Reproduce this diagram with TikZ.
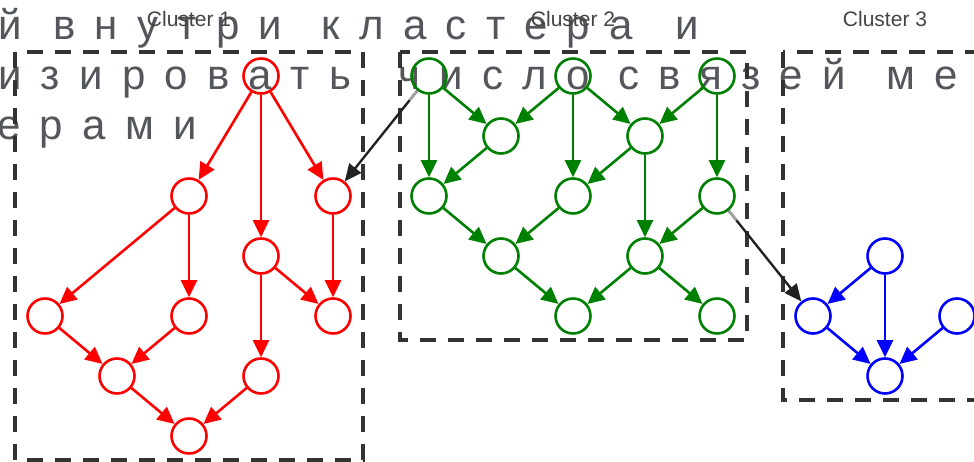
\documentclass[tikz,border=0pt]{standalone}
\usepackage{fontspec}
\setmainfont{Liberation Sans}
\newfontfamily\graytextfont[LetterSpace=46]{Liberation Sans}
\usetikzlibrary{arrows.meta,calc}
\definecolor{txtgray}{HTML}{53565B}
\definecolor{dashgray}{HTML}{333333}
\definecolor{lblgray}{HTML}{444444}
\definecolor{linkblack}{HTML}{222222}
\begin{document}
\begin{tikzpicture}[x=1pt,y=-1pt,
  gw/.style={anchor=base west, inner sep=0pt, font=\graytextfont\fontsize{42}{42}\selectfont, text=txtgray},
  vtx/.style={circle, line width=2.6pt, minimum size=35pt, inner sep=0pt},
  rv/.style={vtx, draw=red},
  gv/.style={vtx, draw=green!50!black},
  bv/.style={vtx, draw=blue},
  ed/.style={line width=2.6pt, -{Triangle[length=17pt,width=16pt]}},
  red edge/.style={ed, draw=red, fill=red},
  green edge/.style={ed, draw=green!50!black, fill=green!50!black},
  blue edge/.style={ed, draw=blue, fill=blue},
  link/.style={line width=2.4pt, draw=linkblack, -{Triangle[length=17pt,width=15pt]}},
  linkfade/.style={line width=2.4pt, draw=black!35},
  clusterbox/.style={draw=dashgray, line width=3.2pt, dash pattern=on 16pt off 12pt},
  lbl/.style={anchor=base, inner sep=0pt, font=\fontsize{21}{21}\selectfont, text=lblgray}
]
\useasboundingbox (0,0) rectangle (974,462);

% overlapping gray text
\node[gw] (t1a) at (-2,40) {й};
\node[gw] (t1b) at (53,40) {внутри};
\node[gw] (t1c) at (321,40) {кластера};
\node[gw] (t1d) at (675,40) {и};
\node[gw] (t2a) at (-2,90) {изировать};
\node[gw] (t2b) at (398,90) {число};
\node[gw] (t2c) at (618,90) {связей};
\node[gw] (t2d) at (886,90) {меж};
\node[gw] (t3a) at (-3,140) {ерами};

% cluster labels
\node[lbl] (l1) at (189,27) {Cluster 1};
\node[lbl] (l2) at (573,27) {Cluster 2};
\node[lbl] (l3) at (885,27) {Cluster 3};

% cluster boxes
\draw[clusterbox] (15,52) rectangle (363,460);
\draw[clusterbox] (400,52) rectangle (747,340);
\draw[clusterbox] (783,52) rectangle (1010,400);

% red cluster
\node[rv] (r1) at (261,76) {};
\node[rv] (r2) at (189,196) {};
\node[rv] (r3) at (333,196) {};
\node[rv] (r4) at (261,256) {};
\node[rv] (r5) at (45,316) {};
\node[rv] (r6) at (189,316) {};
\node[rv] (r7) at (333,316) {};
\node[rv] (r8) at (117,376) {};
\node[rv] (r9) at (261,376) {};
\node[rv] (r10) at (189,436) {};
\draw[red edge] (r1) -- (r2);
\draw[red edge] (r1) -- (r4);
\draw[red edge] (r1) -- (r3);
\draw[red edge] (r2) -- (r5);
\draw[red edge] (r2) -- (r6);
\draw[red edge] (r4) -- (r7);
\draw[red edge] (r4) -- (r9);
\draw[red edge] (r3) -- (r7);
\draw[red edge] (r5) -- (r8);
\draw[red edge] (r6) -- (r8);
\draw[red edge] (r8) -- (r10);
\draw[red edge] (r9) -- (r10);

% green cluster
\node[gv] (g1) at (429,76) {};
\node[gv] (g2) at (573,76) {};
\node[gv] (g3) at (717,76) {};
\node[gv] (g4) at (501,136) {};
\node[gv] (g5) at (645,136) {};
\node[gv] (g6) at (429,196) {};
\node[gv] (g7) at (573,196) {};
\node[gv] (g8) at (717,196) {};
\node[gv] (g9) at (501,256) {};
\node[gv] (g10) at (645,256) {};
\node[gv] (g11) at (573,316) {};
\node[gv] (g12) at (717,316) {};
\draw[green edge] (g1) -- (g4);
\draw[green edge] (g1) -- (g6);
\draw[green edge] (g2) -- (g4);
\draw[green edge] (g2) -- (g5);
\draw[green edge] (g2) -- (g7);
\draw[green edge] (g3) -- (g5);
\draw[green edge] (g3) -- (g8);
\draw[green edge] (g4) -- (g6);
\draw[green edge] (g5) -- (g7);
\draw[green edge] (g5) -- (g10);
\draw[green edge] (g6) -- (g9);
\draw[green edge] (g7) -- (g9);
\draw[green edge] (g8) -- (g10);
\draw[green edge] (g9) -- (g11);
\draw[green edge] (g10) -- (g11);
\draw[green edge] (g10) -- (g12);

% blue cluster
\node[bv] (b1) at (885,256) {};
\node[bv] (b2) at (813,316) {};
\node[bv] (b3) at (957,316) {};
\node[bv] (b4) at (885,376) {};
\draw[blue edge] (b1) -- (b2);
\draw[blue edge] (b1) -- (b4);
\draw[blue edge] (b3) -- (b4);
\draw[blue edge] (b2) -- (b4);

% inter-cluster links
\draw[link] (g1) -- (r3);
\draw[linkfade] ($(g1)!19pt!(r3)$) -- ($(g1)!31pt!(r3)$);
\draw[link] (g8) -- (b2);
\draw[linkfade] ($(g8)!19pt!(b2)$) -- ($(g8)!31pt!(b2)$);
\end{tikzpicture}
\end{document}
